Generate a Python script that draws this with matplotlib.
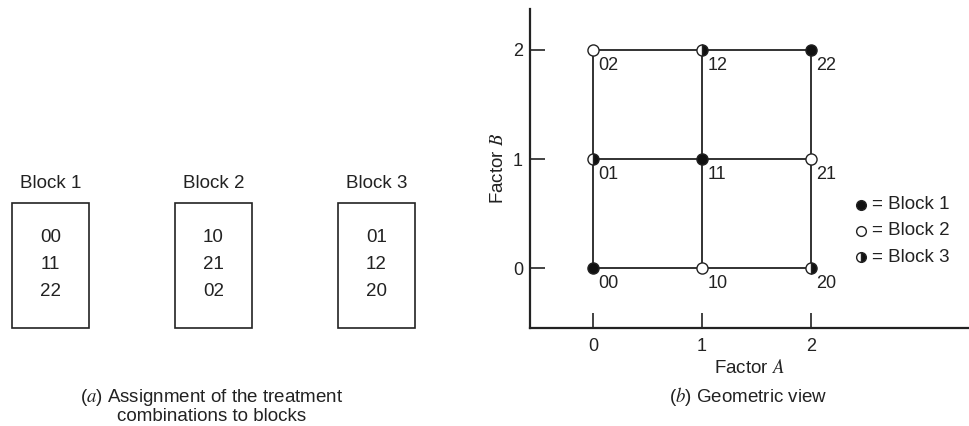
import numpy as np
import matplotlib
matplotlib.use("Agg")
import matplotlib.pyplot as plt

plt.rcParams['font.family'] = ['Liberation Sans', 'DejaVu Sans']
plt.rcParams['mathtext.fontset'] = 'stix'

# Datos: 3^2 factorial en 3 bloques
levels = [0, 1, 2]
block_names = ["Block 1", "Block 2", "Block 3"]
block1 = ["00", "11", "22"]
block2 = ["10", "21", "02"]
block3 = ["01", "12", "20"]
blocks = [block1, block2, block3]

# estilo de marcador por bloque: lleno, vacio, medio lleno
fills = ["full", "none", "right"]

fig = plt.figure(figsize=(9.69, 4.26), dpi=100)

# ---------- (a) asignacion a bloques ----------
axa = fig.add_axes([0, 0, 480 / 969, 1])
axa.set_xlim(-50.5 / 163, (480 - 50.5) / 163)
axa.set_ylim(426, 0)
axa.axis("off")

for i, (name, combos) in enumerate(zip(block_names, blocks)):
    axa.text(i, 184, name, ha="center", va="center", fontsize=13.5, color="#222222")
    axa.add_patch(plt.Rectangle((i - 38.5 / 163, 203), 77 / 163, 125,
                                fill=False, ec="#222222", lw=1.2))
    for j, c in enumerate(combos):
        axa.text(i, 238 + j * 26.5, c, ha="center", va="center", fontsize=13.5,
                 color="#222222")

axa.text(1 - 1.5 / 163, 406, "($a$) Assignment of the treatment\ncombinations to blocks",
         ha="center", va="center", fontsize=13.5, multialignment="center",
         linespacing=1.0, color="#222222")

# ---------- (b) vista geometrica ----------
axb = fig.add_axes([530 / 969, 1 - 328 / 426, 439 / 969, 319 / 426])
axb.set_xlim(-0.578, 3.45)
axb.set_ylim(-0.55, 2.376)
for s in ["top", "right"]:
    axb.spines[s].set_visible(False)
for s in ["left", "bottom"]:
    axb.spines[s].set_linewidth(1.6)
    axb.spines[s].set_color("#222222")

# rejilla
for v in levels:
    axb.plot([v, v], [levels[0], levels[-1]], color="#222222", lw=1.3, zorder=1)
    axb.plot([levels[0], levels[-1]], [v, v], color="#222222", lw=1.3, zorder=1)

for combos, fs in zip(blocks, fills):
    for c in combos:
        a, b = int(c[0]), int(c[1])
        if fs == "none":
            axb.plot(a, b, "o", ms=8, mfc="white", mec="#222222", mew=1.0, zorder=3)
        else:
            axb.plot(a, b, "o", ms=8, fillstyle=fs, mfc="#111111",
                     mfcalt="white", mec="#222222", mew=1.0, zorder=3)
        axb.annotate(c, (a, b), xytext=(4.0, -5.0), textcoords="offset points",
                     ha="left", va="top", fontsize=13, color="#222222")

# leyenda manual
for k, (name, fs) in enumerate(zip(block_names, fills)):
    yk = 0.58 - k * 0.24
    if fs == "none":
        axb.plot(2.459, yk, "o", ms=7, mfc="white", mec="#222222", mew=1.0)
    else:
        axb.plot(2.459, yk, "o", ms=7, fillstyle=fs, mfc="#111111",
                 mfcalt="white", mec="#222222", mew=1.0)
    axb.text(2.56, yk, "= " + name, ha="left", va="center", fontsize=13.5,
             color="#222222")

axb.set_xticks(levels)
axb.set_yticks(levels)
axb.tick_params(direction="in", length=11, width=1.2, labelsize=13, pad=5,
                colors="#222222")
axb.tick_params(axis="x", pad=7)
axb.set_xlabel("Factor $A$", fontsize=13.5, labelpad=3, color="#222222")
axb.set_ylabel("Factor $B$", fontsize=13.5, labelpad=4, color="#222222")

fig.text(748 / 969, 1 - 396 / 426, "($b$) Geometric view", ha="center",
         va="center", fontsize=13.5, color="#222222")

fig.savefig("out.png", dpi=100)
